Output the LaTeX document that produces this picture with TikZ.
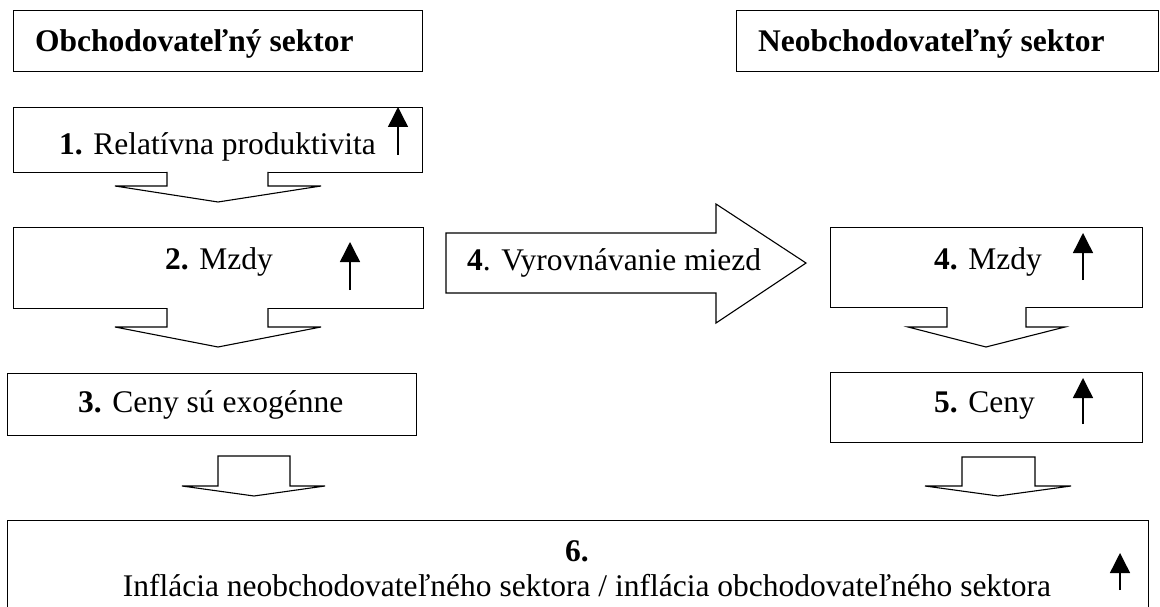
\documentclass[tikz,border=0pt]{standalone}
\usepackage{fontspec}
\setmainfont{Liberation Serif}
\usetikzlibrary{arrows.meta}
\begin{document}
\begin{tikzpicture}[x=1pt,y=-1pt,
  box/.style={draw, line width=1.3pt, inner sep=0pt, anchor=north west},
  blk/.style={draw, line width=1.1pt, line join=miter, fill=white},
  uparrow/.style={-{Triangle[width=20pt,length=20pt]}, line width=1.4pt},
  txt/.style={font=\fontsize{31.5}{36}\selectfont, inner sep=0pt, anchor=base west},
  txtc/.style={font=\fontsize{31.5}{36}\selectfont, inner sep=0pt, anchor=base}]
\useasboundingbox (0,0) rectangle (1160,607);
% boxes
\node[box, minimum width=409pt, minimum height=61pt] (hdrA) at (13,10) {};
\node[box, minimum width=422pt, minimum height=61pt] (hdrB) at (736,10) {};
\node[box, minimum width=409pt, minimum height=65pt] (b1) at (13,107) {};
\node[box, minimum width=410pt, minimum height=81pt] (b2) at (13,227) {};
\node[box, minimum width=409pt, minimum height=62pt] (b3) at (7,373) {};
\node[box, minimum width=312pt, minimum height=80pt] (b4) at (830,227) {};
\node[box, minimum width=312pt, minimum height=70pt] (b5) at (830,372) {};
\node[box, minimum width=1141pt, minimum height=100pt] (b6) at (7,520) {};
% block arrows
\draw[blk] (167,172) -- (167,186) -- (115,186) -- (218,202) -- (321,186) -- (268,186) -- (268,172);
\draw[blk] (167,308) -- (167,327) -- (115,327) -- (218,347) -- (321,327) -- (268,327) -- (268,308);
\draw[blk] (947,307) -- (947,327) -- (908,327) -- (986,347) -- (1065,327) -- (1026,327) -- (1026,307);
\draw[blk] (218,456) -- (218,486) -- (182,486) -- (254,496) -- (325,486) -- (290,486) -- (290,456) -- cycle;
\draw[blk] (962,457) -- (962,486) -- (925,486) -- (998,496) -- (1071,486) -- (1035,486) -- (1035,457) -- cycle;
\draw[blk] (446,233) -- (716,233) -- (716,204) -- (806,263) -- (716,323) -- (716,293) -- (446,293) -- cycle;
% texts
\node[txt] (tA) at (35,52) {\bfseries Obchodovateľný sektor};
\node[txt] (tB) at (758,52) {\bfseries Neobchodovateľný sektor};
\node[txt] (t1) at (59,155) {\textbf{1.} Relatívna produktivita};
\node[txt] (t2) at (165,269) {\textbf{2.} Mzdy};
\node[txt] (t3) at (78,412) {\textbf{3.} Ceny sú exogénne};
\node[txt] (t4) at (934,269) {\textbf{4.} Mzdy};
\node[txt] (t5) at (934,412) {\textbf{5.} Ceny};
\node[txt] (t4b) at (467,270) {\textbf{4}. Vyrovnávanie miezd};
\node[txtc] (t6a) at (577,561) {\textbf{6.}};
\node[txtc] (t6b) at (587,596) {Inflácia neobchodovateľného sektora / inflácia obchodovateľného sektora};
% up arrows
\coordinate (u1s) at (398,155); \coordinate (u1e) at (398,107);
\coordinate (u2s) at (350,290); \coordinate (u2e) at (350,242);
\coordinate (u4s) at (1083,280); \coordinate (u4e) at (1083,233);
\coordinate (u5s) at (1083,424); \coordinate (u5e) at (1083,378);
\coordinate (u6s) at (1120,590); \coordinate (u6e) at (1120,553);
\draw[uparrow] (u1s) -- (u1e);
\draw[uparrow] (u2s) -- (u2e);
\draw[uparrow] (u4s) -- (u4e);
\draw[uparrow] (u5s) -- (u5e);
\draw[uparrow] (u6s) -- (u6e);
\end{tikzpicture}
\end{document}
